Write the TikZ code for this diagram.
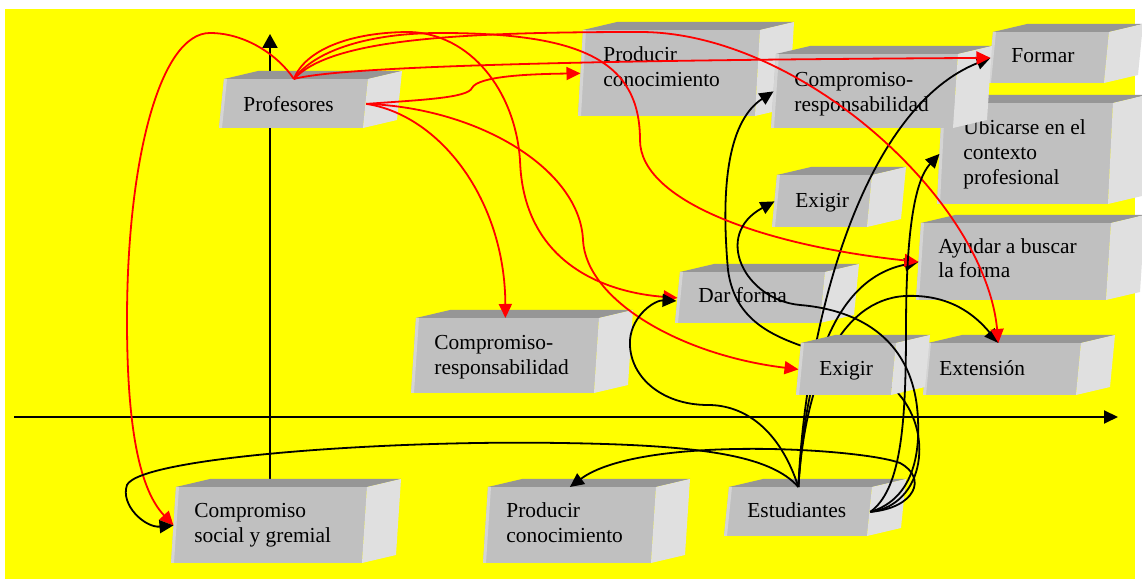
\documentclass[tikz,border=0pt]{standalone}
\usepackage{fontspec}
\setmainfont{Liberation Serif}
\usetikzlibrary{arrows.meta,calc}
\definecolor{bgyellow}{RGB}{255,255,0}
\definecolor{frontc}{RGB}{192,192,192}
\definecolor{topc}{RGB}{150,150,150}
\definecolor{sidec}{RGB}{224,224,224}
\definecolor{leftc}{RGB}{212,212,212}
% #1 name, #2 bottom-left x, #3 top y, #4 width, #5 height (pixels)
\newcommand{\mkblock}[5]{%
  \fill[frontc] (#2,#3+#5) -- (#2+5,#3) -- (#2+5+#4,#3) -- (#2+#4,#3+#5) -- cycle;
  \fill[leftc] (#2,#3+#5) -- (#2+5,#3) -- (#2+8,#3) -- (#2+3,#3+#5) -- cycle;
  \fill[topc] (#2+5,#3) -- (#2+39,#3-8) -- (#2+39+#4,#3-8) -- (#2+5+#4,#3) -- cycle;
  \fill[sidec] (#2+5+#4,#3) -- (#2+39+#4,#3-8) -- (#2+34+#4,#3+#5-8) -- (#2+#4,#3+#5) -- cycle;
  \node[anchor=north west, inner sep=0pt, minimum width=#4*0.5pt, minimum height=#5*0.5pt] (#1) at (#2+2.5,#3) {};
}
\begin{document}
\begin{tikzpicture}[x=0.5pt,y=-0.5pt,
  lbl/.style={anchor=base west, inner sep=0pt, font=\fontsize{10.7pt}{12.5pt}\selectfont},
  redarr/.style={draw=red, line width=0.9pt, -{Triangle[length=7pt,width=6.5pt]}},
  blackarr/.style={draw=black, line width=0.9pt, -{Triangle[length=7pt,width=6.5pt]}},
  axisline/.style={draw=black, line width=1pt}]
\useasboundingbox (0,0) rectangle (1142,581);
\clip (0,0) rectangle (1142,581);
\fill[bgyellow] (5,9) rectangle (1135,579);

% axes
\coordinate (vaxB) at (270,490);
\coordinate (vaxT) at (270,34);
\coordinate (haxL) at (14,417);
\coordinate (haxR) at (1118,417);
\draw[axisline, -{Triangle[length=7pt,width=7.5pt]}] (vaxB) -- (vaxT);
\draw[axisline, -{Triangle[length=7pt,width=6.5pt]}] (haxL) -- (haxR);

% boxes
\mkblock{prof}{219}{79}{144}{49}
\node[lbl] (prof-t) at (243,112) {Profesores};
\mkblock{pt}{578}{30}{177}{86}
\node[lbl] (pt-a) at (603,62) {Producir};
\node[lbl] (pt-b) at (603,87) {conocimiento};
\mkblock{ubi}{937}{103}{171}{101}
\node[lbl] (ubi-a) at (963,135) {Ubicarse en el};
\node[lbl] (ubi-b) at (963,160) {contexto};
\node[lbl] (ubi-c) at (963,185) {profesional};
\mkblock{form}{988}{32}{116}{51}
\node[lbl] (form-t) at (1011,63) {Formar};
\mkblock{ct}{771}{54}{182}{74}
\node[lbl] (ct-a) at (794,87) {Compromiso-};
\node[lbl] (ct-b) at (794,112) {responsabilidad};
\mkblock{ext}{772}{175}{95}{52}
\node[lbl] (ext-t) at (795,208) {Exigir};
\mkblock{ayu}{916}{223}{190}{77}
\node[lbl] (ayu-a) at (938,254) {Ayudar a buscar};
\node[lbl] (ayu-b) at (938,278) {la forma};
\mkblock{dar}{675}{272}{145}{51}
\node[lbl] (dar-t) at (698,303) {Dar forma};
\mkblock{cm}{411}{318}{183}{75}
\node[lbl] (cm-a) at (434,350) {Compromiso-};
\node[lbl] (cm-b) at (434,375) {responsabilidad};
\mkblock{exn}{923}{343}{153}{52}
\node[lbl] (exn-t) at (939,376) {Extensión};
\mkblock{soc}{171}{487}{191}{76}
\node[lbl] (soc-a) at (194,518) {Compromiso};
\node[lbl] (soc-b) at (194,543) {social y gremial};
\mkblock{pb}{483}{487}{168}{76}
\node[lbl] (pb-a) at (506,518) {Producir};
\node[lbl] (pb-b) at (506,543) {conocimiento};
\mkblock{est}{724}{487}{143}{49}
\node[lbl] (est-t) at (747,518) {Estudiantes};

\coordinate (exnT) at ($(exn.north)+(-4,0)$);
\coordinate (darB) at ($(dar.west)+(-1,3)$);

% black connectors passing behind the lower "Exigir" block
\draw[blackarr] (est.north) .. controls (805,330) and (860,110) .. (form.west);
\draw[blackarr] (est.north) .. controls (805,380) and (830,280) .. (ayu.west);
\draw[blackarr] (est.north) .. controls (805,380) and (840,300) .. (905,296)
  .. controls (950,294) and (975,315) .. (exnT);
\draw[blackarr] (est.east) .. controls (925,505) and (935,430) .. (895,390)
  .. controls (850,340) and (740,360) .. (728,270)
  .. controls (720,180) and (730,120) .. (ct.west);

\mkblock{exl}{796}{343}{95}{52}
\node[lbl] (exl-t) at (819,376) {Exigir};

% red connectors from Profesores
\draw[redarr] (prof.north) .. controls (278,55) and (245,33) .. (210,33)
  .. controls (160,33) and (127,160) .. (127,320)
  .. controls (127,430) and (140,490) .. (soc.west);
\draw[redarr] (prof.north) .. controls (305,50) and (350,32) .. (410,32)
  .. controls (470,34) and (515,90) .. (520,160)
  .. controls (523,260) and (600,292) .. (dar.west);
\draw[redarr] (prof.north) .. controls (315,50) and (370,33) .. (440,33)
  .. controls (580,33) and (640,60) .. (640,140)
  .. controls (640,200) and (760,245) .. (ayu.west);
\draw[redarr] (prof.north) .. controls (330,40) and (450,32) .. (640,32)
  .. controls (800,32) and (985,200) .. (exnT);
\draw[redarr] (prof.north) .. controls (340,66) and (600,60) .. (form.west);
\draw[redarr] (prof.east) .. controls (420,100) and (468,98) .. (472,88)
  .. controls (478,76) and (530,74) .. (pt.west);
\draw[redarr] (prof.east) .. controls (440,115) and (505,200) .. (cm.north);
\draw[redarr] (prof.east) .. controls (480,108) and (580,170) .. (583,240)
  .. controls (586,300) and (680,355) .. (exl.west);

% black connectors from Estudiantes
\draw[blackarr] (est.north) .. controls (770,455) and (700,445) .. (560,443)
  .. controls (380,440) and (140,458) .. (127,485)
  .. controls (120,505) and (145,528) .. (soc.west);
\draw[blackarr] (est.north) .. controls (780,430) and (745,405) .. (708,405)
  .. controls (660,405) and (628,375) .. (630,340)
  .. controls (632,315) and (655,300) .. (darB);
\draw[blackarr] (est.east) .. controls (910,500) and (920,460) .. (918,420)
  .. controls (915,340) and (860,310) .. (800,305)
  .. controls (745,300) and (712,235) .. (ext.west);
\draw[blackarr] (est.east) .. controls (900,490) and (906,430) .. (906,330)
  .. controls (906,230) and (915,180) .. (ubi.west);
\draw[blackarr] (est.east) .. controls (915,508) and (928,478) .. (900,463)
  .. controls (860,448) and (640,435) .. (pb.north);
\end{tikzpicture}
\end{document}
